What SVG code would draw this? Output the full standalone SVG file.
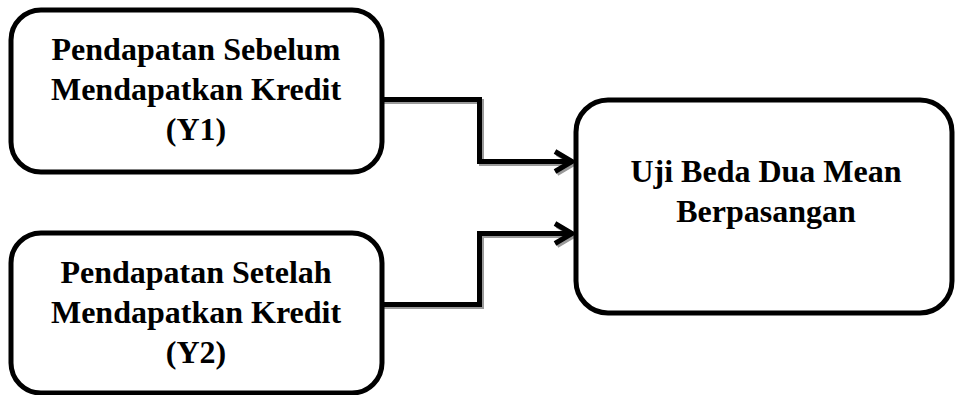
<svg xmlns="http://www.w3.org/2000/svg" width="957" height="395" viewBox="0 0 957 395">
<style>
.box{fill:#fff;stroke:#000;stroke-width:5}
.t{font-family:"Liberation Serif","Times New Roman",serif;font-weight:bold;font-size:32px;text-anchor:middle;fill:#000}
.c{fill:none;stroke:#000;stroke-width:5;stroke-linejoin:miter}
.s{fill:none;stroke:#9a9a9a;stroke-width:5;stroke-linejoin:miter}
</style>
<g id="connectors">
<path class="s" d="M384,101.5 H481.5 V163.5 H573"/>
<path class="s" d="M384,306.5 H481.5 V235.5 H573"/>
<path class="s" d="M557,153.5 L574,163.5 L557,173.5"/>
<path class="s" d="M557,225.5 L574,235.5 L557,245.5"/>
<path class="c" d="M382,99.5 H479.5 V161.5 H572"/>
<path class="c" d="M382,304.5 H479.5 V233.5 H572"/>
<path class="c" d="M555,151.5 L572,161.5 L555,171.5"/>
<path class="c" d="M555,223.5 L572,233.5 L555,243.5"/>
</g>
<g id="n1">
<rect class="box" x="11" y="10" width="371" height="162" rx="30"/>
<text class="t" x="196" y="60">Pendapatan Sebelum</text>
<text class="t" x="196" y="100">Mendapatkan Kredit</text>
<text class="t" x="196" y="140">(Y1)</text>
</g>
<g id="n2">
<rect class="box" x="11" y="233" width="371" height="160" rx="30"/>
<text class="t" x="196" y="283">Pendapatan Setelah</text>
<text class="t" x="196" y="323">Mendapatkan Kredit</text>
<text class="t" x="196" y="363">(Y2)</text>
</g>
<g id="n3">
<rect class="box" x="576" y="100" width="376" height="213" rx="32"/>
<text class="t" x="766" y="182">Uji Beda Dua Mean</text>
<text class="t" x="766" y="222">Berpasangan</text>
</g>
</svg>
